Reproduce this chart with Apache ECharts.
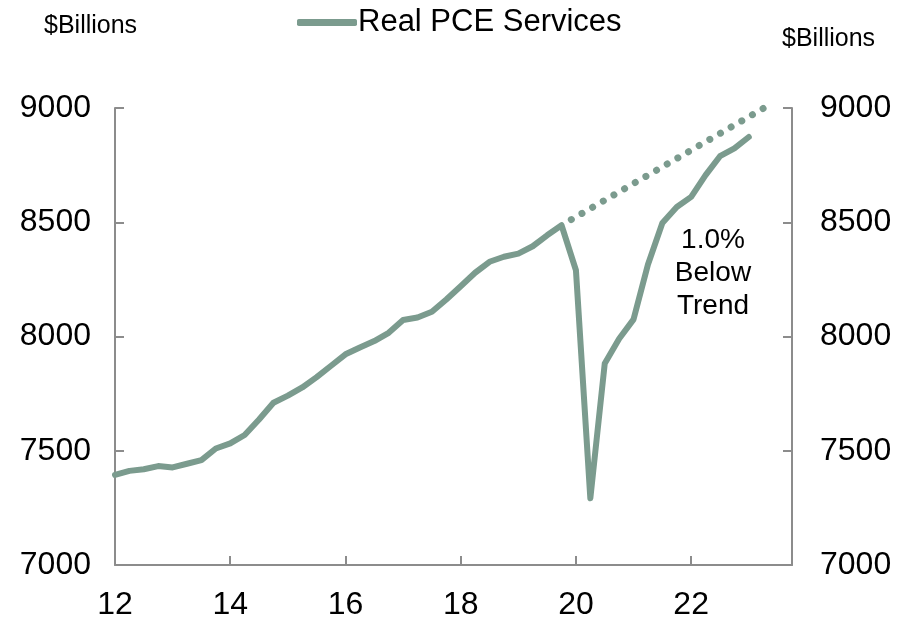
<!DOCTYPE html>
<html>
<head>
<meta charset="utf-8">
<script src="https://cdn.jsdelivr.net/npm/echarts@6/dist/echarts.min.js"></script>
<style>
html,body{margin:0;padding:0;background:#fff;overflow:hidden;}
#chart{width:908px;height:618px;}
</style>
</head>
<body>
<div id="chart"></div>
<script>
// Quarter positions (year - 2000, fractional), 2012Q1 .. 2023Q1
var quarterX = [12, 12.25, 12.5, 12.75, 13, 13.25, 13.5, 13.75,
  14, 14.25, 14.5, 14.75, 15, 15.25, 15.5, 15.75,
  16, 16.25, 16.5, 16.75, 17, 17.25, 17.5, 17.75,
  18, 18.25, 18.5, 18.75, 19, 19.25, 19.5, 19.75,
  20, 20.25, 20.5, 20.75, 21, 21.25, 21.5, 21.75,
  22, 22.25, 22.5, 22.75, 23];
// Real PCE Services, $Billions
var pceServices = [7394, 7412, 7419, 7433, 7427, 7443, 7459, 7510,
  7532, 7569, 7637, 7710, 7741, 7777, 7822, 7872,
  7922, 7952, 7980, 8016, 8072, 8083, 8108, 8162,
  8220, 8279, 8327, 8349, 8363, 8395, 8443, 8487,
  8290, 7292, 7882, 7990, 8075, 8315, 8497, 8567,
  8611, 8706, 8789, 8823, 8873];
// Pre-pandemic trend (start and end points)
var trendX = [19.75, 23.25];
var trendValues = [8487, 8998];
var xTickLabels = [12, 14, 16, 18, 20, 22];

var lineColor = '#7b9b8e';
var axisColor = '#8c8c8c';
var font = 'Liberation Sans, Arial, sans-serif';

var mainData = quarterX.map(function (x, i) { return [x, pceServices[i]]; });
var trendData = trendX.map(function (x, i) { return [x, trendValues[i]]; });

var yAxisCommon = {
  type: 'value', min: 7000, max: 9000, interval: 500,
  splitLine: { show: false },
  axisLine: { show: true, lineStyle: { color: axisColor, width: 2 } },
  axisTick: { show: true, inside: true, length: 9, lineStyle: { color: axisColor, width: 2 } },
  axisLabel: { color: '#000', fontSize: 32, fontFamily: font, formatter: function (v) { return String(v); } }
};

var chart = echarts.init(document.getElementById('chart'), null, { renderer: 'canvas' });
chart.setOption({
  animation: false,
  backgroundColor: '#fff',
  grid: { left: 115, right: 116, top: 108, bottom: 53, containLabel: false, outerBoundsMode: 'none' },
  title: [
    { text: '$Billions', left: 39, top: 9, textStyle: { fontSize: 25, fontWeight: 'normal', color: '#000', fontFamily: font } },
    { text: '$Billions', left: 777, top: 22, textStyle: { fontSize: 25, fontWeight: 'normal', color: '#000', fontFamily: font } }
  ],
  legend: {
    data: ['Real PCE Services'],
    left: 292, top: 2,
    itemWidth: 60, itemHeight: 7, itemGap: 2,
    icon: 'roundRect',
    textStyle: { fontSize: 31, color: '#000', fontFamily: font, padding: [0, 0, 0, -4] }
  },
  xAxis: {
    type: 'value', min: 12, max: 23.75, interval: 2,
    splitLine: { show: false },
    axisLine: { show: true, lineStyle: { color: axisColor, width: 2 } },
    axisTick: { show: true, inside: true, length: 9, lineStyle: { color: axisColor, width: 2 } },
    axisLabel: {
      color: '#000', fontSize: 32, fontFamily: font, margin: 24,
      formatter: function (v) { return xTickLabels.indexOf(v) >= 0 ? String(v) : ''; }
    }
  },
  yAxis: [
    Object.assign({}, yAxisCommon, { position: 'left', axisLabel: Object.assign({}, yAxisCommon.axisLabel, { margin: 24 }) }),
    Object.assign({}, yAxisCommon, { position: 'right', axisLabel: Object.assign({}, yAxisCommon.axisLabel, { margin: 28 }) })
  ],
  series: [
    {
      name: 'Real PCE Services', type: 'line', data: mainData,
      showSymbol: false, symbol: 'none',
      lineStyle: { color: lineColor, width: 6, join: 'round', cap: 'round' },
      itemStyle: { color: lineColor },
      z: 3
    },
    {
      name: 'Trend', type: 'line', data: trendData,
      showSymbol: false, symbol: 'none',
      lineStyle: { color: lineColor, width: 7, type: [0.01, 12.3], dashOffset: -11.3, cap: 'round' },
      itemStyle: { color: lineColor },
      z: 2
    }
  ],
  graphic: [
    {
      type: 'text', x: 713, y: 273,
      style: { text: '1.0%\nBelow\nTrend', fill: '#000', font: '28px ' + font, textAlign: 'center', textVerticalAlign: 'middle', lineHeight: 33 }
    }
  ]
});
</script>
</body>
</html>
